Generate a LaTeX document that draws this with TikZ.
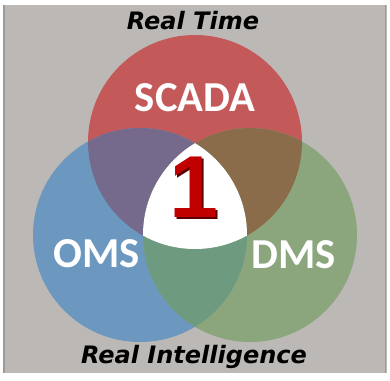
\documentclass[tikz,border=0pt]{standalone}
\usepackage{fontspec}
\newfontfamily\calfont{Carlito}
\newfontfamily\verfont{DejaVu Sans}
\newfontfamily\arfont{Liberation Sans}
\definecolor{bg}{HTML}{BCB8B5}
\definecolor{bgline}{HTML}{9E9A98}
\definecolor{cred}{HTML}{C4595A}
\definecolor{cblue}{HTML}{6C98C0}
\definecolor{cgreen}{HTML}{8BA67C}
\definecolor{cpurple}{HTML}{756A8C}
\definecolor{cbrown}{HTML}{8A6C4B}
\definecolor{cteal}{HTML}{6E9A80}
\definecolor{onered}{HTML}{C00000}
\definecolor{oneshadow}{HTML}{5A0000}
\tikzset{
  lbl/.style={text=white, font=\calfont\bfseries\fontsize{32}{32}\selectfont, inner sep=0pt},
  title/.style={text=black, font=\verfont\bfseries\itshape\fontsize{18}{18}\selectfont, inner sep=0pt},
  onefont/.style={font=\arfont\bfseries\fontsize{66}{66}\selectfont, inner sep=0pt}
}
\def\R{80.25pt}
\begin{document}
\begin{tikzpicture}[x=0.75pt,y=-0.75pt]
\useasboundingbox (0,0) rectangle (390,380);
\fill[white] (0,0) rectangle (390,380);
\fill[bg] (3,5) rectangle (387,373);
\draw[bgline, line width=1.2pt] (3.8,5) -- (3.8,373);
\draw[bgline, line width=1.2pt] (385.5,5) -- (385.5,373);
\coordinate (cR) at (195,142);
\coordinate (cB) at (140,235);
\coordinate (cG) at (250,235);
\fill[cred] (cR) circle[radius=\R];
\fill[cblue] (cB) circle[radius=\R];
\fill[cgreen] (cG) circle[radius=\R];
\begin{scope}\clip (cR) circle[radius=\R]; \fill[cpurple] (cB) circle[radius=\R];\end{scope}
\begin{scope}\clip (cR) circle[radius=\R]; \fill[cbrown] (cG) circle[radius=\R];\end{scope}
\begin{scope}\clip (cB) circle[radius=\R]; \fill[cteal] (cG) circle[radius=\R];\end{scope}
\begin{scope}\clip (cR) circle[radius=\R]; \clip (cB) circle[radius=\R]; \fill[white] (cG) circle[radius=\R];\end{scope}
\node[lbl] (scada) at (195,98) {SCADA};
\node[lbl] (oms) at (97,254) {OMS};
\node[lbl] (dms) at (294,255) {DMS};
\node[onefont] (one) at (193.5,188) {\rlap{\hspace*{2pt}\raisebox{-1.6pt}{\textcolor{oneshadow}{1}}}\textcolor{onered}{1}};
\node[title] (rt) at (193,21) {Real Time};
\node[title] (ri) at (194,357) {Real Intelligence};
\end{tikzpicture}
\end{document}
